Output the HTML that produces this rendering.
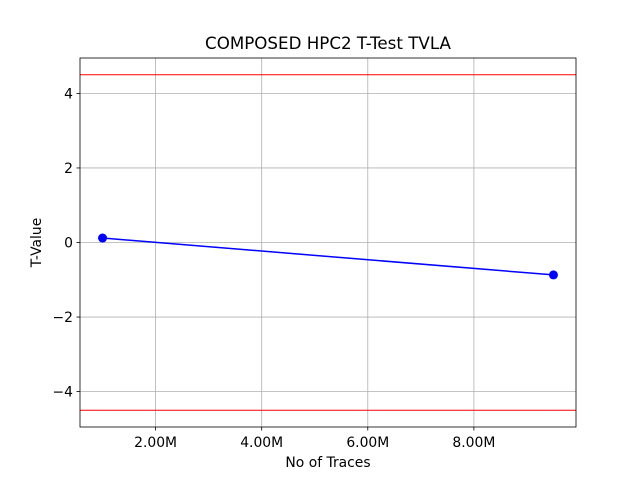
<!DOCTYPE html>
<html><head><meta charset="utf-8"><style>
body{margin:0;background:#fff}
svg text{font-family:"DejaVu Sans","Liberation Sans",sans-serif;fill:#000}
</style></head><body>
<svg id="chart" width="640" height="480" xmlns="http://www.w3.org/2000/svg">
<rect width="640" height="480" fill="#fff"/>
<text x="328" y="49" font-size="16.7" text-anchor="middle">COMPOSED HPC2 T-Test TVLA</text>
<text x="328" y="467" font-size="13.9" text-anchor="middle">No of Traces</text>
<text x="41" y="242.5" font-size="13.9" text-anchor="middle" transform="rotate(-90 41 242.5)">T-Value</text>
<g id="grid"></g><g id="ticks"></g><g id="marks"></g>
<rect x="80" y="58" width="496" height="369" fill="none" stroke="#000" stroke-width="0.8"/>
</svg>
<script>
const traces = [1.0e6, 9.5e6];
const tValues = [0.12, -0.87];
const thresholds = [4.5, -4.5];
const xTicks = [2e6, 4e6, 6e6, 8e6];
const xTickLabels = ["2.00M", "4.00M", "6.00M", "8.00M"];
const yTicks = [-4, -2, 0, 2, 4];
const yTickLabels = ["\u22124", "\u22122", "0", "2", "4"];

const L=80,R=576,T=58,B=427;
const xmin=0.575e6,xmax=9.925e6,ymin=-4.95,ymax=4.95;
const sx=v=>L+(v-xmin)/(xmax-xmin)*(R-L);
const sy=v=>B-(v-ymin)/(ymax-ymin)*(B-T);
const NS="http://www.w3.org/2000/svg";
function mk(tag,attrs,parent){const e=document.createElementNS(NS,tag);for(const k in attrs)e.setAttribute(k,attrs[k]);document.getElementById(parent).appendChild(e);return e;}
xTicks.forEach((v,i)=>{
  const x=sx(v);
  const g=mk("line",{x1:x,x2:x,y1:T,y2:B,stroke:"#b0b0b0","stroke-width":0.8},"grid");
  
  
  const t=mk("line",{x1:x,x2:x,y1:B,y2:B+3.5,stroke:"#000","stroke-width":0.8},"ticks");
  
  
  const l=mk("text",{x:x,y:B+20,"font-size":13.9,"text-anchor":"middle"},"ticks");
  l.textContent=xTickLabels[i];
  
  
});
yTicks.forEach((v,i)=>{
  const y=sy(v);
  const g=mk("line",{x1:L,x2:R,y1:y,y2:y,stroke:"#b0b0b0","stroke-width":0.8},"grid");
  
  
  const t=mk("line",{x1:L-3.5,x2:L,y1:y,y2:y,stroke:"#000","stroke-width":0.8},"ticks");
  
  
  const l=mk("text",{x:L-7,y:y+5,"font-size":13.9,"text-anchor":"end"},"ticks");
  l.textContent=yTickLabels[i];
  
  
});
thresholds.forEach(v=>{
  const y=sy(v);
  const h=mk("line",{x1:L,x2:R,y1:y,y2:y,stroke:"#ff0000","stroke-width":1},"marks");
  
  
});
const pts=traces.map((v,i)=>sx(v)+","+sy(tValues[i])).join(" ");
const pl=mk("polyline",{points:pts,fill:"none",stroke:"#0000ff","stroke-width":1.5},"marks");


traces.forEach((v,i)=>{
  const c=mk("circle",{cx:sx(v),cy:sy(tValues[i]),r:4.5,fill:"#0000ff"},"marks");
  
  
});
</script>
</body></html>
